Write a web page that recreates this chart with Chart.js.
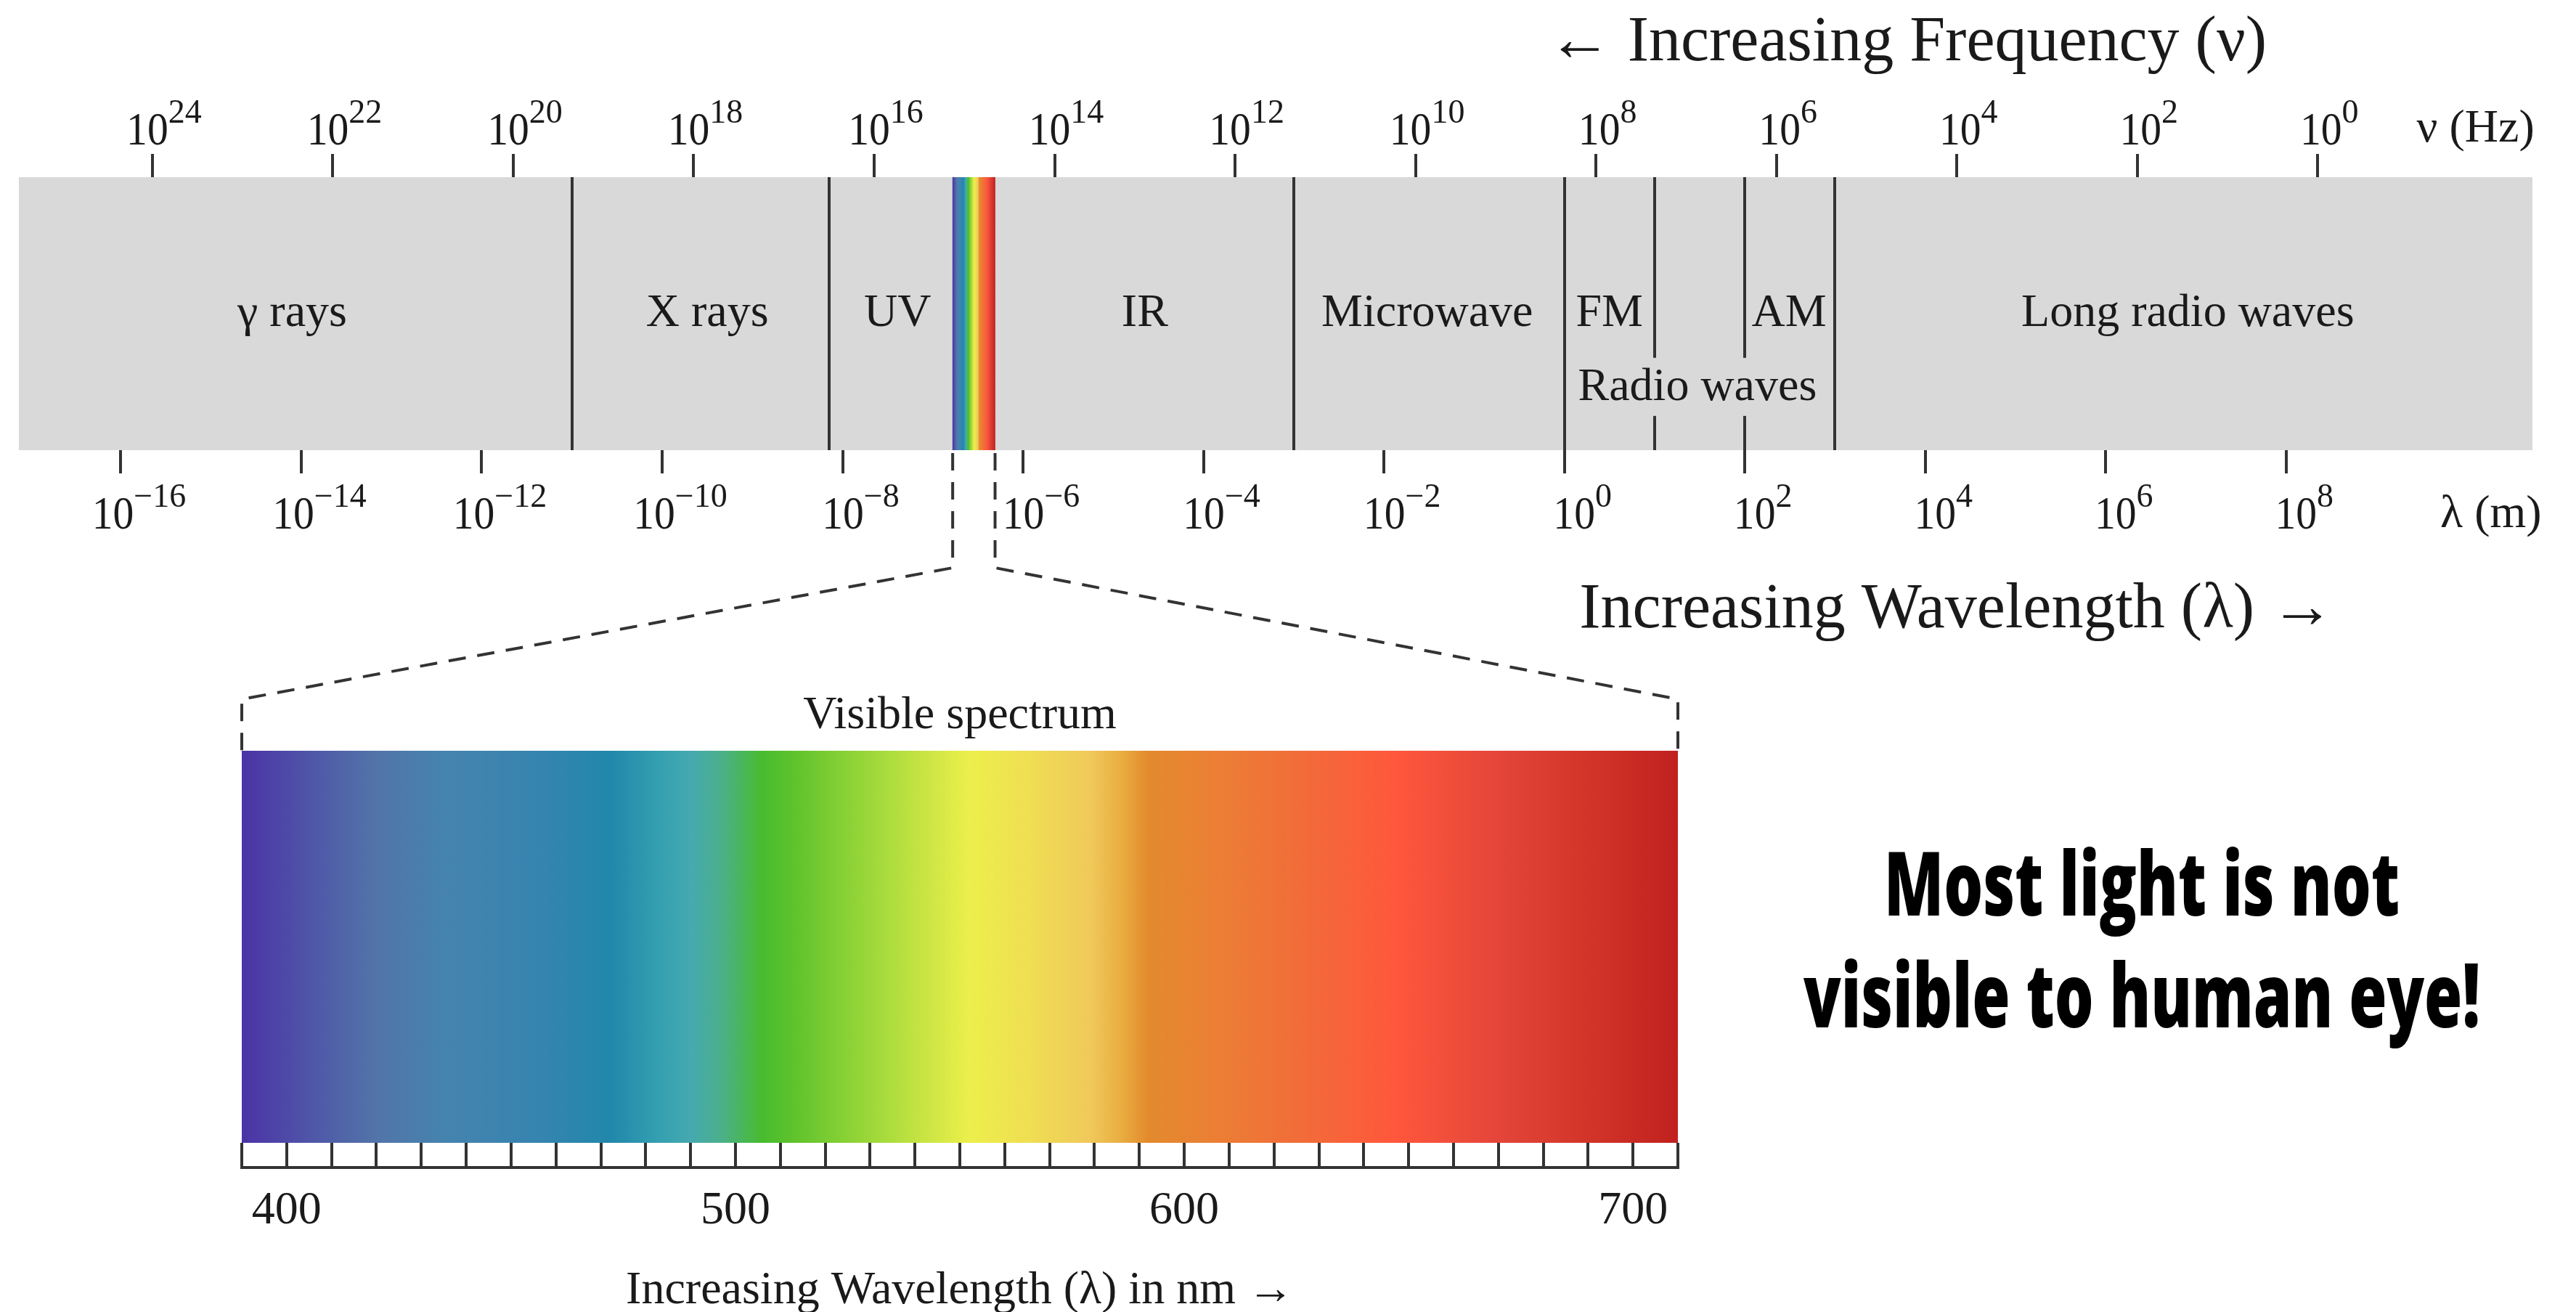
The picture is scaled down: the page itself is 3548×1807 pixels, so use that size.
<!DOCTYPE html>
<html lang="en">
<head>
<meta charset="UTF-8">
<title>Electromagnetic spectrum</title>
<script src="https://cdn.jsdelivr.net/npm/chart.js"></script>
<style>
  html, body { margin: 0; padding: 0; background: #fff; }
  #wrap { position: relative; width: 3548px; height: 1807px; }
  #wrap canvas { position: absolute; left: 0; top: 0; }
</style>
</head>
<body>
<div id="wrap">
  <canvas id="emCanvas" width="3548" height="1807"></canvas>
  <canvas id="visCanvas" width="3548" height="1807"></canvas>
</div>

<script>
// ---------- data ----------
// top strip, x = log10(wavelength in m); frequency axis uses log10(λ) = LOG_C - log10(ν)
const LOG_C = 8.35;
const stripRange = [-17.13, 10.73];
const bandEdges = [-11, -8.15, -3, 0, 1, 2, 3];
const bandNames = ['γ rays', 'X rays', 'UV', 'IR', 'Microwave', 'FM', 'AM', 'Long radio waves'];
const bandLabelPos = [-14.1, -9.5, -7.39, -4.65, -1.52, 0.5, 2.49, 6.91];
const radioLabel = 'Radio waves';
const radioLabelPos = 1.475;
const visibleLogRange = [-6.78, -6.31];
const freqExponents = [24, 22, 20, 18, 16, 14, 12, 10, 8, 6, 4, 2, 0];
const waveExponents = [-16, -14, -12, -10, -8, -6, -4, -2, 0, 2, 4, 6, 8];

// visible spectrum, x = wavelength in nm
const visibleRange = [390, 710];
const nmLabels = [400, 500, 600, 700];
const spectrumNm = [390, 405, 420, 435, 455, 472, 483, 490, 497, 506, 514, 532, 552, 565, 579, 586, 592, 608, 627, 647, 669, 690, 710];
const spectrumColors = ['#4b33a6', '#4f55a8', '#5274a9', '#4583ae', '#3784b0', '#2187ab', '#34a0b0', '#45a9b0', '#4bb089',
  '#48bc2e', '#62c42c', '#a4da3c', '#ecef4b', '#efdf52', '#f0c95a', '#e9ad40', '#e38a2d', '#ec7e35', '#f26b39',
  '#ff573c', '#e5463a', '#d23528', '#c0211f'];

const message = ['Most light is not', 'visible to human eye!'];

// ---------- helpers ----------
const SERIF = '"Liberation Serif", "DejaVu Serif", serif';
const INK = '#1a1a1a';
const LINE = '#333333';
const STRIP_GRAY = '#d9d9d9';

function text(ctx, str, x, y, size, opts = {}) {
  ctx.save();
  ctx.font = `${opts.weight || 'normal'} ${size}px ${opts.family || SERIF}`;
  ctx.fillStyle = opts.color || INK;
  ctx.textBaseline = 'alphabetic';
  ctx.textAlign = opts.align || 'center';
  ctx.translate(x, y);
  ctx.scale(opts.sx || 1, 1);
  ctx.fillText(str, 0, 0);
  ctx.restore();
}

function measure(ctx, str, size, weight, family) {
  ctx.save();
  ctx.font = `${weight || 'normal'} ${size}px ${family || SERIF}`;
  const w = ctx.measureText(str).width;
  ctx.restore();
  return w;
}

function powerLabel(ctx, exp, x, baseline) {
  const sup = exp < 0 ? '\u2212' + (-exp) : String(exp);
  const baseSx = 0.9;
  const wb = measure(ctx, '10', 64) * baseSx;
  const ws = measure(ctx, sup, 46);
  const left = x - (wb + ws) / 2;
  text(ctx, '10', left, baseline, 64, { align: 'left', sx: baseSx });
  text(ctx, sup, left + wb, baseline - 30, 46, { align: 'left' });
}

function spectrumGradient(chart, from, to) {
  const area = chart.chartArea;
  if (!area) return spectrumColors[0];
  const s = chart.scales.x;
  const g = chart.ctx.createLinearGradient(s.getPixelForValue(from), 0, s.getPixelForValue(to), 0);
  const span = visibleRange[1] - visibleRange[0];
  spectrumNm.forEach((nm, i) => g.addColorStop((nm - visibleRange[0]) / span, spectrumColors[i]));
  return g;
}

function logAxis(extra) {
  return Object.assign({
    type: 'linear', min: stripRange[0], max: stripRange[1], bounds: 'data',
    ticks: { display: false },
    border: { display: false }
  }, extra);
}

// ---------- top strip: electromagnetic spectrum ----------
const stripText = {
  id: 'stripText',
  afterDraw(chart) {
    const { ctx, chartArea: a } = chart;
    const x = chart.scales.x;
    const midY = a.top + (a.bottom - a.top) * 0.545;

    bandNames.forEach((name, i) => text(ctx, name, x.getPixelForValue(bandLabelPos[i]), midY, 64));

    // "Radio waves" sits on a gray patch that cuts the FM / AM lines
    const ry = a.top + (a.bottom - a.top) * 0.816;
    const rx = x.getPixelForValue(radioLabelPos);
    const rw = measure(ctx, radioLabel, 64);
    ctx.fillStyle = STRIP_GRAY;
    ctx.fillRect(rx - rw / 2 - 6, ry - 58, rw + 12, 80);
    text(ctx, radioLabel, rx, ry, 64);

    freqExponents.forEach(e => powerLabel(ctx, e, x.getPixelForValue(LOG_C - e) + 16, a.top - 45));
    waveExponents.forEach(e => powerLabel(ctx, e, x.getPixelForValue(e) + 25, a.bottom + 108));

    text(ctx, 'ν (Hz)', x.getPixelForValue(10.1), a.top - 49, 64);
    text(ctx, 'λ (m)', x.getPixelForValue(10.27), a.bottom + 106, 64);

    text(ctx, '← Increasing Frequency (ν)', x.getPixelForValue(3.8), a.top - 161, 88);
    text(ctx, 'Increasing Wavelength (λ) →', x.getPixelForValue(4.35), a.bottom + 244, 88);
  }
};

const tickGrid = { drawOnChartArea: false, drawTicks: true, tickLength: 32, color: LINE, lineWidth: 4 };

window.emChart = new Chart(document.getElementById('emCanvas'), {
  type: 'bar',
  data: {
    labels: ['strip'],
    datasets: [
      { label: 'visible', data: [visibleLogRange], grouped: false, borderWidth: 0,
        backgroundColor: c => spectrumGradient(c.chart, visibleLogRange[0], visibleLogRange[1]) },
      { label: 'spectrum', data: [stripRange], grouped: false, borderWidth: 0, backgroundColor: STRIP_GRAY }
    ]
  },
  options: {
    indexAxis: 'y',
    responsive: false,
    animation: false,
    events: [],
    barPercentage: 1,
    categoryPercentage: 1,
    layout: { padding: { left: 26, right: 60, top: 212, bottom: 1155 } },
    plugins: { legend: { display: false }, tooltip: { enabled: false } },
    scales: {
      y: { type: 'category', display: false },
      x: logAxis({
        position: 'bottom', grid: tickGrid,
        afterBuildTicks: s => { s.ticks = waveExponents.map(v => ({ value: v })); },
        afterFit: s => { s.height = 32; }
      }),
      xf: logAxis({
        position: 'top', grid: tickGrid,
        afterBuildTicks: s => { s.ticks = freqExponents.map(e => ({ value: LOG_C - e })); },
        afterFit: s => { s.height = 32; }
      }),
      // band boundaries, drawn over the gray strip
      xd: logAxis({
        position: 'bottom',
        grid: { z: 1, drawOnChartArea: true, drawTicks: false, color: LINE, lineWidth: 4 },
        afterBuildTicks: s => { s.ticks = bandEdges.map(v => ({ value: v })); },
        afterFit: s => { s.height = 0; }
      })
    }
  },
  plugins: [stripText]
});

// ---------- visible spectrum ----------
const visText = {
  id: 'visText',
  afterDraw(chart) {
    const { ctx, chartArea: a } = chart;
    const x = chart.scales.x;
    const mid = x.getPixelForValue((visibleRange[0] + visibleRange[1]) / 2);

    // bottom rail of the ruler
    ctx.save();
    ctx.strokeStyle = LINE;
    ctx.lineWidth = 4;
    ctx.beginPath();
    ctx.moveTo(x.getPixelForValue(visibleRange[0]) - 2, a.bottom + 34);
    ctx.lineTo(x.getPixelForValue(visibleRange[1]) + 2, a.bottom + 34);
    ctx.stroke();
    ctx.restore();

    text(ctx, 'Visible spectrum', mid, a.top - 31, 64);
    text(ctx, 'Increasing Wavelength (λ) in nm →', mid, a.bottom + 221, 64);

    // dashed zoom lines from the strip down to this bar
    const em = window.emChart;
    const ex = em.scales.x;
    const top = em.chartArea.bottom;
    const elbow = top + 162;
    const foot = a.top - 71;
    ctx.save();
    ctx.strokeStyle = LINE;
    ctx.lineWidth = 4;
    ctx.setLineDash([24, 16]);
    [[visibleLogRange[0], visibleRange[0]], [visibleLogRange[1], visibleRange[1]]].forEach(([lg, nm]) => {
      const sx = ex.getPixelForValue(lg);
      const bx = x.getPixelForValue(nm);
      ctx.beginPath();
      ctx.moveTo(sx, top + 4);
      ctx.lineTo(sx, elbow);
      ctx.lineTo(bx, foot);
      ctx.lineTo(bx, a.top);
      ctx.stroke();
    });
    ctx.restore();

    // message on the right
    const family = '"Open Sans", "Liberation Sans", sans-serif';
    const widths = [710, 932];
    const baselines = [1261, 1415];
    message.forEach((line, i) => {
      const w = measure(ctx, line, 122, '800', family);
      text(ctx, line, 2950, baselines[i], 122, { weight: '800', family, color: '#000', sx: widths[i] / w });
    });
  }
};

new Chart(document.getElementById('visCanvas'), {
  type: 'bar',
  data: {
    labels: ['visible'],
    datasets: [
      { label: 'visible spectrum', data: [visibleRange], borderWidth: 0,
        backgroundColor: c => spectrumGradient(c.chart, visibleRange[0], visibleRange[1]) }
    ]
  },
  options: {
    indexAxis: 'y',
    responsive: false,
    animation: false,
    events: [],
    barPercentage: 1,
    categoryPercentage: 1,
    layout: { padding: { left: 333, right: 1237, top: 1034, bottom: 103 } },
    plugins: { legend: { display: false }, tooltip: { enabled: false } },
    scales: {
      y: { type: 'category', display: false },
      x: {
        type: 'linear', min: visibleRange[0], max: visibleRange[1], bounds: 'data',
        position: 'bottom',
        border: { display: false },
        grid: { drawOnChartArea: false, drawTicks: true, tickLength: 34, color: LINE, lineWidth: 4 },
        ticks: {
          stepSize: 10, autoSkip: false, maxRotation: 0, padding: 22,
          color: INK, font: { family: SERIF, size: 64 },
          callback: v => nmLabels.includes(v) ? String(v) : ''
        },
        afterFit: s => { s.height = 130; }
      }
    }
  },
  plugins: [visText]
});
</script>
</body>
</html>
